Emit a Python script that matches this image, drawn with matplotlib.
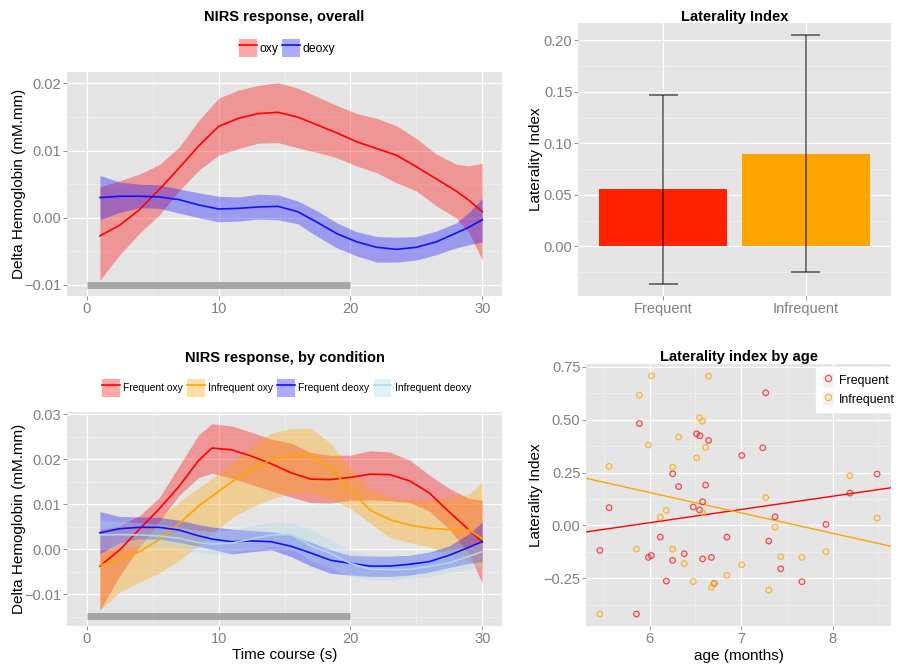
import numpy as np
import matplotlib
matplotlib.use('Agg')
import matplotlib.pyplot as plt
from matplotlib.patches import Patch
from matplotlib.lines import Line2D

plt.rcParams['font.family'] = ['Liberation Sans', 'DejaVu Sans']

# --- NIRS response, overall (time in s, values in mM.mm) ---
t_top = [1, 2.5, 4, 5.5, 7, 8.5, 10, 11.5, 13, 14.5, 16, 17.5, 19, 20.5, 22, 23.5, 25, 26.5, 28, 29, 30]
oxy_mean = [-0.0027, -0.0011, 0.0012, 0.0042, 0.0074, 0.0107, 0.0136, 0.0148, 0.0155, 0.0157, 0.0150,
            0.0138, 0.0126, 0.0113, 0.0103, 0.0093, 0.0076, 0.0058, 0.0040, 0.0026, 0.0009]
oxy_hi = [0.0046, 0.0055, 0.0065, 0.0079, 0.0105, 0.0145, 0.0178, 0.0190, 0.0197, 0.0201, 0.0193,
          0.0180, 0.0167, 0.0155, 0.0148, 0.0137, 0.0118, 0.0095, 0.0080, 0.0077, 0.0081]
oxy_lo = [-0.0093, -0.0055, -0.0023, 0.0004, 0.0040, 0.0071, 0.0093, 0.0103, 0.0111, 0.0112, 0.0104,
          0.0097, 0.0089, 0.0077, 0.0067, 0.0052, 0.0040, 0.0018, 0.0000, -0.0022, -0.0063]
deoxy_mean = [0.0030, 0.0032, 0.0032, 0.0031, 0.0027, 0.0019, 0.0013, 0.0014, 0.0016, 0.0017, 0.0009,
              -0.0007, -0.0024, -0.0036, -0.0044, -0.0047, -0.0044, -0.0036, -0.0023, -0.0014, -0.0003]
deoxy_hi = [0.0063, 0.0053, 0.0050, 0.0049, 0.0043, 0.0037, 0.0032, 0.0031, 0.0035, 0.0034, 0.0025,
            0.0010, -0.0008, -0.0021, -0.0028, -0.0029, -0.0028, -0.0020, -0.0008, 0.0008, 0.0029]
deoxy_lo = [-0.0003, 0.0008, 0.0015, 0.0014, 0.0007, 0.0000, -0.0006, -0.0005, -0.0002, -0.0003, -0.0009,
            -0.0028, -0.0045, -0.0057, -0.0066, -0.0066, -0.0063, -0.0055, -0.0045, -0.0040, -0.0036]

# --- NIRS response, by condition ---
t_bot = [1, 2.5, 4, 5.5, 7, 8.5, 9.5, 11, 12.5, 14, 15.5, 17, 18.5, 20, 21.5, 23, 24.5, 26, 27.5, 29, 30]
fo_mean = [-0.0037, -0.0001, 0.0045, 0.0090, 0.0140, 0.0198, 0.0225, 0.0221, 0.0207, 0.0190, 0.0170,
           0.0156, 0.0155, 0.0160, 0.0167, 0.0166, 0.0152, 0.0125, 0.0083, 0.0043, 0.0017]
fo_hi = [0.0045, 0.0052, 0.0075, 0.0115, 0.0185, 0.0255, 0.0279, 0.0274, 0.0260, 0.0245, 0.0236,
         0.0215, 0.0209, 0.0209, 0.0219, 0.0216, 0.0198, 0.0165, 0.0135, 0.0113, 0.0109]
fo_lo = [-0.0135, -0.0058, 0.0005, 0.0062, 0.0120, 0.0160, 0.0169, 0.0158, 0.0144, 0.0130, 0.0116,
         0.0104, 0.0103, 0.0109, 0.0110, 0.0108, 0.0104, 0.0085, 0.0045, -0.0010, -0.0075]
io_mean = [-0.0035, -0.0022, -0.0005, 0.0022, 0.0057, 0.0097, 0.0118, 0.0150, 0.0178, 0.0199, 0.0209,
           0.0208, 0.0180, 0.0132, 0.0087, 0.0066, 0.0054, 0.0047, 0.0044, 0.0043, 0.0024]
io_hi = [-0.0009, 0.0006, 0.0040, 0.0070, 0.0105, 0.0137, 0.0158, 0.0190, 0.0228, 0.0258, 0.0268,
         0.0269, 0.0235, 0.0180, 0.0132, 0.0116, 0.0111, 0.0109, 0.0114, 0.0122, 0.0150]
io_lo = [-0.0135, -0.0095, -0.0073, -0.0052, -0.0025, 0.0010, 0.0035, 0.0070, 0.0094, 0.0112, 0.0124,
         0.0125, 0.0112, 0.0091, 0.0058, 0.0026, 0.0015, 0.0005, -0.0012, -0.0026, -0.0042]
fd_mean = [0.0037, 0.0046, 0.0049, 0.0049, 0.0043, 0.0030, 0.0023, 0.0017, 0.0019, 0.0017, 0.0007,
           -0.0008, -0.0024, -0.0031, -0.0037, -0.0037, -0.0033, -0.0027, -0.0013, 0.0005, 0.0017]
fd_hi = [0.0084, 0.0073, 0.0072, 0.0071, 0.0065, 0.0055, 0.0050, 0.0045, 0.0042, 0.0039, 0.0032,
         0.0016, -0.0001, -0.0013, -0.0015, -0.0015, -0.0013, -0.0006, 0.0008, 0.0035, 0.0061]
fd_lo = [-0.0009, 0.0015, 0.0023, 0.0023, 0.0016, 0.0007, 0.0000, -0.0010, -0.0005, -0.0001, -0.0016,
         -0.0037, -0.0053, -0.0057, -0.0060, -0.0060, -0.0057, -0.0050, -0.0040, -0.0031, -0.0027]
id_mean = [0.0032, 0.0033, 0.0032, 0.0030, 0.0025, 0.0015, 0.0012, 0.0014, 0.0023, 0.0032, 0.0033,
           0.0008, -0.0009, -0.0031, -0.0044, -0.0045, -0.0044, -0.0038, -0.0030, -0.0015, -0.0005]
id_hi = [0.0065, 0.0062, 0.0060, 0.0056, 0.0050, 0.0042, 0.0040, 0.0043, 0.0053, 0.0061, 0.0060,
         0.0045, 0.0021, -0.0001, -0.0012, -0.0016, -0.0013, -0.0007, -0.0001, 0.0008, 0.0017]
id_lo = [-0.0001, 0.0004, 0.0008, 0.0008, 0.0002, -0.0007, -0.0012, -0.0008, 0.0001, 0.0006, 0.0002,
         -0.0025, -0.0042, -0.0061, -0.0067, -0.0068, -0.0064, -0.0059, -0.0052, -0.0043, -0.0038]

# stimulation period (grey bar)
stim_on, stim_off = 0, 20

# --- Laterality index bars ---
groups = ['Frequent', 'Infrequent']
li_mean = [0.0556, 0.0901]
li_se = [0.0917, 0.1146]

# --- Laterality index by age ---
age_freq = [5.455, 5.556, 5.887, 5.855, 5.985, 6.018, 6.116, 6.182, 6.251, 6.251, 6.316, 6.378, 6.476,
            6.513, 6.549, 6.545, 6.578, 6.578, 6.611, 6.644, 6.676, 6.705, 6.844, 7.007, 7.236, 7.269,
            7.302, 7.371, 7.433, 7.665, 7.927, 8.189, 8.487]
li_freq = [-0.118, 0.084, 0.482, -0.419, -0.151, -0.142, -0.055, -0.263, 0.244, -0.165, 0.184, -0.134, 0.087,
           0.433, 0.424, 0.073, 0.112, -0.158, 0.191, 0.402, -0.151, -0.274, -0.055, 0.331, 0.367, 0.627,
           -0.074, 0.041, -0.205, -0.266, 0.005, 0.153, 0.243]
age_infreq = [5.455, 5.556, 5.855, 5.887, 5.985, 6.018, 6.116, 6.182, 6.251, 6.251, 6.316, 6.378, 6.476,
              6.513, 6.545, 6.578, 6.578, 6.611, 6.644, 6.676, 6.705, 6.844, 7.007, 7.269, 7.302, 7.371,
              7.433, 7.665, 7.927, 8.189, 8.487]
li_infreq = [-0.419, 0.279, -0.112, 0.616, 0.380, 0.707, 0.039, 0.071, 0.276, -0.112, 0.418, -0.180, -0.265,
             0.320, 0.509, 0.493, 0.060, 0.369, 0.706, -0.293, -0.274, -0.236, -0.186, 0.132, -0.306, -0.008,
             -0.148, -0.151, -0.124, 0.235, 0.035]
# linear fits (slope, intercept) as drawn
fit_slope = [0.0626, -0.0963]
fit_icpt = [-0.3626, 0.7336]

GRID_BG = '#E5E5E5'
TICK_COL = '#7F7F7F'


def minus(s):
    return s.replace('-', '\u2212')


def style(ax, xmaj, xmin, ymaj, ymin, yfmt='%.2f'):
    ax.set_facecolor(GRID_BG)
    for sp in ax.spines.values():
        sp.set_visible(False)
    if xmaj is not None:
        ax.set_xticks(xmaj)
        ax.set_xticklabels([str(v) for v in xmaj])
    ax.set_xticks(xmin, minor=True)
    ax.set_yticks(ymaj)
    ax.set_yticklabels([minus(yfmt % v) for v in ymaj])
    ax.set_yticks(ymin, minor=True)
    ax.grid(which='major', color='white', lw=0.9)
    ax.grid(which='minor', color='#F2F2F2', lw=0.5)
    ax.set_axisbelow(True)
    ax.tick_params(which='minor', length=0)
    ax.tick_params(which='major', length=3, width=0.6, color=TICK_COL,
                   labelcolor=TICK_COL, labelsize=10.5)
    ax.tick_params(axis='x', pad=1.5)
    ax.tick_params(axis='y', pad=1)


def smooth(ax, t, mean, lo, hi, col, fill=None, lw=1.2):
    fill = fill or col
    ax.fill_between(t, lo, hi, color=fill, alpha=0.35, lw=0)
    ax.plot(t, mean, color=col, lw=lw)


fig = plt.figure(figsize=(9.02, 6.68), dpi=100)
W, H = 902.0, 668.0


def add_ax(l, t, r, b):
    return fig.add_axes([l / W, 1 - b / H, (r - l) / W, (b - t) / H])


# ---------- top left ----------
ax1 = add_ax(67, 72, 502, 296)
smooth(ax1, t_top, oxy_mean, oxy_lo, oxy_hi, 'red')
smooth(ax1, t_top, deoxy_mean, deoxy_lo, deoxy_hi, '#1010FF')
ax1.plot([stim_on, stim_off], [-0.01, -0.01], color='#A6A6A6', lw=5, solid_capstyle='butt')
ax1.set_xlim(-1.5, 31.5)
ax1.set_ylim(-0.01165, 0.0217)
style(ax1, [0, 10, 20, 30], [5, 15, 25], [-0.01, 0.0, 0.01, 0.02], [-0.005, 0.005, 0.015])
ax1.set_title('NIRS response, overall', fontsize=10.5, fontweight='bold', y=1.228, pad=0)
ax1.set_ylabel('Delta Hemoglobin (mM.mm)', fontsize=11)
ax1.yaxis.set_label_coords(-0.095, 0.5)
h_top = [(Patch(facecolor='red', alpha=0.35, lw=0), Line2D([], [], color='red', lw=1.2)),
         (Patch(facecolor='#1010FF', alpha=0.35, lw=0), Line2D([], [], color='#1010FF', lw=1.2))]
fig.legend(h_top, ['oxy', 'deoxy'], loc='center', bbox_to_anchor=(287 / W, 1 - 48 / H), ncol=2,
           frameon=False, fontsize=8.7, handlelength=1.5, handleheight=1.92, handletextpad=0.17,
           columnspacing=0.33, borderpad=0, borderaxespad=0)

# ---------- bottom left ----------
ax3 = add_ax(67, 412, 502, 626)
cond_cols = ['red', '#FFA500', '#1010FF', '#ADD8E6']
cond_names = ['Frequent oxy', 'Infrequent oxy', 'Frequent deoxy', 'Infrequent deoxy']
smooth(ax3, t_bot, fo_mean, fo_lo, fo_hi, cond_cols[0])
smooth(ax3, t_bot, io_mean, io_lo, io_hi, cond_cols[1])
smooth(ax3, t_bot, fd_mean, fd_lo, fd_hi, cond_cols[2])
smooth(ax3, t_bot, id_mean, id_lo, id_hi, cond_cols[3])
ax3.plot([stim_on, stim_off], [-0.0148, -0.0148], color='#A6A6A6', lw=5, solid_capstyle='butt')
ax3.set_xlim(-1.5, 31.5)
ax3.set_ylim(-0.017, 0.0305)
style(ax3, [0, 10, 20, 30], [5, 15, 25], [-0.01, 0.0, 0.01, 0.02, 0.03],
      [-0.015, -0.005, 0.005, 0.015, 0.025])
ax3.set_title('NIRS response, by condition', fontsize=10.5, fontweight='bold', y=1.235, pad=0)
ax3.set_ylabel('Delta Hemoglobin (mM.mm)', fontsize=11)
ax3.yaxis.set_label_coords(-0.095, 0.5)
ax3.set_xlabel('Time course (s)', fontsize=11)
ax3.xaxis.set_label_coords(0.5, -0.105)
h_bot = [(Patch(facecolor=c, alpha=0.35, lw=0), Line2D([], [], color=c, lw=1.2)) for c in cond_cols]
fig.legend(h_bot, cond_names, loc='center', bbox_to_anchor=(286.5 / W, 1 - 388 / H), ncol=4,
           frameon=False, fontsize=7.4, handlelength=1.72, handleheight=2.27, handletextpad=0.32,
           columnspacing=0.42, borderpad=0, borderaxespad=0)

# ---------- top right ----------
ax2 = add_ax(578, 23, 891, 296)
xpos = np.arange(1, len(groups) + 1)
ax2.bar(xpos, li_mean, width=0.9, color=['#FF2200', '#FFA500'], zorder=2)
lo = np.array(li_mean) - np.array(li_se)
hi = np.array(li_mean) + np.array(li_se)
ax2.vlines(xpos, lo, hi, color='black', alpha=0.6, lw=1.2, zorder=3)
ax2.hlines(lo, xpos - 0.1, xpos + 0.1, color='black', alpha=0.6, lw=1.2, zorder=3)
ax2.hlines(hi, xpos - 0.1, xpos + 0.1, color='black', alpha=0.6, lw=1.2, zorder=3)
ax2.set_xlim(0.4, 2.6)
pad = 0.05 * (hi.max() - lo.min())
ax2.set_ylim(lo.min() - pad, hi.max() + pad)
style(ax2, None, [], [0.0, 0.05, 0.10, 0.15, 0.20], [-0.025, 0.025, 0.075, 0.125, 0.175])
ax2.set_xticks(xpos)
ax2.set_xticklabels(groups)
ax2.set_title('Laterality Index', fontsize=10.5, fontweight='bold', y=1.007, pad=0)
ax2.set_ylabel('Laterality Index', fontsize=11)
ax2.yaxis.set_label_coords(-0.112, 0.5)

# ---------- bottom right ----------
ax4 = add_ax(586, 364, 891, 626)
ax4.scatter(age_freq, li_freq, s=16, facecolors='none', edgecolors='red', alpha=0.7, lw=0.9, zorder=3)
ax4.scatter(age_infreq, li_infreq, s=16, facecolors='none', edgecolors='#FFA500', alpha=0.8, lw=0.9, zorder=3)
ax4.axline((0, fit_icpt[0]), slope=fit_slope[0], color='red', lw=1.0, zorder=2)
ax4.axline((0, fit_icpt[1]), slope=fit_slope[1], color='#FFA500', lw=1.0, zorder=2)
allx = age_freq + age_infreq
ally = li_freq + li_infreq
xr = max(allx) - min(allx)
yr = max(ally) - min(ally)
ax4.set_xlim(min(allx) - 0.05 * xr, max(allx) + 0.05 * xr)
ax4.set_ylim(min(ally) - 0.05 * yr, max(ally) + 0.05 * yr)
style(ax4, [6, 7, 8], [5.5, 6.5, 7.5, 8.5], [-0.25, 0.0, 0.25, 0.50, 0.75],
      [-0.375, -0.125, 0.125, 0.375, 0.625])
ax4.set_title('Laterality index by age', fontsize=10.5, fontweight='bold', y=1.010, pad=0)
ax4.set_ylabel('Laterality Index', fontsize=11)
ax4.yaxis.set_label_coords(-0.141, 0.5)
ax4.set_xlabel('age (months)', fontsize=11)
ax4.xaxis.set_label_coords(0.5, -0.086)
h_age = [(Patch(facecolor='#F2F2F2', edgecolor='white'),
          Line2D([], [], ls='', marker='o', mfc='none', mec=c, ms=4.5, mew=0.9, alpha=a))
         for c, a in [('red', 0.7), ('#FFA500', 0.8)]]
fig.legend(h_age, groups, loc='upper left', bbox_to_anchor=(816 / W, 1 - 367 / H),
           frameon=True, facecolor='white', edgecolor='white', fancybox=False, framealpha=1,
           fontsize=8.9, handlelength=1.0, handleheight=1.5, handletextpad=0.4,
           labelspacing=0.3, borderpad=0.45, borderaxespad=0)

fig.savefig('out.png', dpi=100)
